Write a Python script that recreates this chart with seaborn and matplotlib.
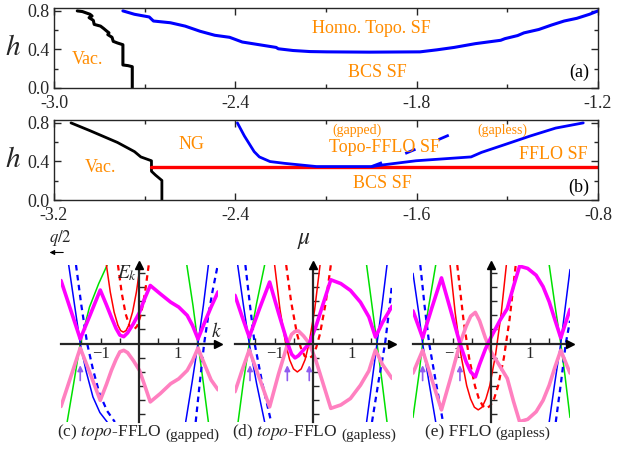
import numpy as np
import matplotlib
matplotlib.use("Agg")
import matplotlib.pyplot as plt
import seaborn as sns
from matplotlib.ticker import MultipleLocator, FormatStrFormatter

# ---------------- panel (a) ----------------
a_black_mu = [-2.923, -2.906, -2.881, -2.874, -2.884, -2.870, -2.867, -2.846, -2.836, -2.825,
              -2.818, -2.822, -2.808, -2.804, -2.790, -2.772, -2.772, -2.755, -2.741, -2.741]
a_black_h = [0.800, 0.793, 0.765, 0.747, 0.730, 0.702, 0.660, 0.642, 0.618, 0.589,
             0.572, 0.554, 0.526, 0.484, 0.467, 0.449, 0.239, 0.232, 0.221, 0.0]
a_blue_mu = [-2.772, -2.734, -2.685, -2.671, -2.615, -2.566, -2.517, -2.468, -2.419, -2.377,
             -2.321, -2.265, -2.258, -2.209, -2.153, -2.097, -1.957, -1.789, -1.733, -1.676,
             -1.606, -1.522, -1.508, -1.466, -1.445, -1.396, -1.354, -1.312, -1.270, -1.228, -1.200]
a_blue_h = [0.800, 0.765, 0.737, 0.695, 0.677, 0.642, 0.589, 0.547, 0.526, 0.477,
            0.449, 0.421, 0.407, 0.389, 0.378, 0.375, 0.372, 0.375, 0.396, 0.421,
            0.460, 0.495, 0.512, 0.544, 0.572, 0.607, 0.653, 0.695, 0.723, 0.765, 0.800]

# ---------------- panel (b) ----------------
b_black_mu = [-3.125, -3.041, -2.920, -2.845, -2.817, -2.770, -2.770, -2.770, -2.752, -2.724, -2.724]
b_black_h = [0.80, 0.719, 0.597, 0.502, 0.447, 0.407, 0.353, 0.298, 0.258, 0.203, 0.0]
b_red_mu = [-2.770, -0.8]
b_red_h = [0.347, 0.347]
b_blue_mu = [-2.391, -2.360, -2.317, -2.294, -2.247, -2.182, -2.042, -1.799, -1.743, -1.603,
             -1.360, -1.314, -1.211, -1.099, -0.987, -0.865]
b_blue_h = [0.80, 0.664, 0.502, 0.447, 0.399, 0.380, 0.347, 0.347, 0.366, 0.407,
            0.447, 0.494, 0.575, 0.664, 0.746, 0.80]
b_dash_mu = [-1.799, -1.687, -1.55, -1.426, -1.388]
b_dash_h = [0.347, 0.447, 0.58, 0.705, 0.80]

# ---------------- panel (c) ----------------
c_mag_k = [-2.03, -1.78, -1.53, -1.27, -1.01, -0.85, -0.72, -0.60, -0.50, -0.40, -0.30, -0.15,
           0.01, 0.16, 0.29, 0.55, 0.82, 1.03, 1.25, 1.39, 1.53, 1.70, 1.87, 2.05]
c_mag_E = [1.66, 0.89, 0.12, 0.76, 1.41, 1.02, 0.69, 0.40, 0.22, 0.18, 0.28, 0.52,
           0.82, 1.22, 1.53, 1.31, 1.09, 0.96, 0.74, 0.47, 0.12, 0.55, 0.96, 1.36]
c_pink_E = [-1.66, -0.89, -0.12, -0.80, -1.50, -1.08, -0.71, -0.42, -0.22, -0.18, -0.24, -0.45,
            -0.71, -1.15, -1.54, -1.32, -1.06, -0.93, -0.71, -0.45, -0.12, -0.55, -0.96, -1.22]
c_green_L_k = [-1.87, -1.70, -1.53, -1.29, -1.05, -0.83]
c_green_L_E = [-2.07, -1.05, 0.0, 0.96, 1.58, 2.07]
c_green_R_k = [1.24, 1.40, 1.53, 1.67, 1.80]
c_green_R_E = [2.07, 1.0, 0.0, -1.05, -2.07]
c_blue_L_k = [-1.83, -1.68, -1.53, -1.38, -1.20, -1.02, -0.83]
c_blue_L_E = [2.07, 1.03, 0.0, -0.72, -1.41, -1.82, -2.07]
c_blue_R_k = [1.21, 1.38, 1.53, 1.67, 1.80]
c_blue_R_E = [-2.07, -1.0, 0.0, 1.0, 2.07]
c_dash_L_k = [-1.64, -1.50, -1.35, -1.20, -1.03, -0.83, -0.63]
c_dash_L_E = [2.07, 1.0, 0.0, -0.68, -1.32, -1.78, -2.07]
c_dash_R_k = [1.47, 1.58, 1.69, 1.80, 1.91, 2.03]
c_dash_R_E = [-2.07, -1.0, 0.0, 0.75, 1.39, 2.0]
c_red_k = [-0.85, -0.75, -0.65, -0.55, -0.48, -0.41, -0.34, -0.27, -0.17, -0.07, 0.03]
c_red_E = [2.07, 1.36, 0.83, 0.48, 0.34, 0.30, 0.34, 0.48, 0.83, 1.36, 2.07]
c_rdash_k = [-0.55, -0.45, -0.35, -0.25, -0.15, -0.05, 0.05, 0.15, 0.25]
c_rdash_E = [2.07, 1.32, 0.78, 0.46, 0.35, 0.46, 0.78, 1.32, 2.07]
c_arrows_k = [-1.53]

# ---------------- panel (d) ----------------
d_mag_k = [-2.03, -1.85, -1.66, -1.40, -1.13, -0.90, -0.66, -0.56, -0.47, -0.38, -0.25, -0.10,
           0.07, 0.46, 0.72, 0.97, 1.23, 1.45, 1.62, 1.80, 2.05]
d_mag_E = [1.27, 0.72, 0.17, 0.90, 1.62, 0.81, 0.00, -0.28, -0.38, -0.32, -0.17, 0.00,
           0.44, 1.68, 1.58, 1.40, 1.09, 0.70, 0.17, 0.55, 0.98]
d_pink_E = [-1.27, -0.72, -0.17, -0.90, -1.67, -0.81, 0.00, 0.24, 0.32, 0.33, 0.20, 0.00,
            -0.44, -1.71, -1.62, -1.45, -1.10, -0.72, -0.17, -0.55, -0.92]
d_green_L_k = [-1.95, -1.81, -1.66, -1.47, -1.26]
d_green_L_E = [-2.07, -1.0, 0.0, 1.05, 2.07]
d_green_R_k = [1.39, 1.53, 1.66, 1.79, 1.92]
d_green_R_E = [2.07, 1.0, 0.0, -1.0, -2.07]
d_blue_L_k = [-1.96, -1.81, -1.66, -1.47, -1.26]
d_blue_L_E = [2.07, 1.0, 0.0, -1.05, -2.07]
d_blue_R_k = [1.39, 1.53, 1.66, 1.79, 1.92]
d_blue_R_E = [-2.07, -1.0, 0.0, 1.0, 2.07]
d_dash_L_k = [-1.76, -1.64, -1.52, -1.32, -1.09]
d_dash_L_E = [2.07, 1.0, 0.0, -1.05, -2.07]
d_dash_R_k = [1.53, 1.70, 1.87, 1.96, 2.05]
d_dash_R_E = [-2.07, -1.0, 0.0, 0.75, 1.55]
d_red_k = [-1.00, -0.86, -0.71, -0.61, -0.51, -0.41, -0.31, -0.21, -0.11, 0.04, 0.18]
d_red_E = [2.07, 0.89, -0.02, -0.43, -0.67, -0.75, -0.67, -0.43, -0.02, 0.89, 2.07]
d_rdash_k = [-0.70, -0.57, -0.42, -0.32, -0.22, -0.12, -0.02, 0.08, 0.18, 0.33, 0.46]
d_rdash_E = [2.07, 1.09, 0.26, -0.11, -0.33, -0.40, -0.33, -0.11, 0.26, 1.09, 2.07]
d_arrows_k = [-1.64, -0.67, -0.10]

# ---------------- panel (e) ----------------
e_mag_k = [-2.03, -1.78, -1.54, -1.29, -1.05, -0.81, -0.65, -0.53, -0.41, -0.30, -0.15, 0.00,
           0.23, 0.42, 0.58, 0.74, 0.95, 1.17, 1.35, 1.51, 1.66, 1.81, 2.05]
e_mag_E = [0.86, 0.15, 0.94, 1.73, 0.87, 0.00, -0.48, -0.75, -0.88, -0.55, -0.15, 0.17,
           0.61, 0.92, 1.50, 2.04, 1.98, 1.80, 1.50, 1.10, 0.62, 0.15, 0.90]
e_pink_E = [-0.78, -0.18, -0.95, -1.75, -0.90, 0.00, 0.45, 0.72, 0.82, 0.60, 0.15, -0.22,
            -0.60, -0.92, -1.52, -2.06, -2.00, -1.80, -1.50, -1.10, -0.62, -0.18, -0.78]
e_green_L_k = [-2.03, -1.88, -1.78, -1.61, -1.44]
e_green_L_E = [-1.95, -0.85, 0.0, 1.05, 2.07]
e_green_R_k = [1.51, 1.66, 1.81, 1.92, 2.05]
e_green_R_E = [2.07, 1.0, 0.0, -0.85, -1.95]
e_blue_L_k = [-2.03, -1.88, -1.78, -1.61, -1.44]
e_blue_L_E = [1.85, 0.8, 0.0, -1.05, -2.07]
e_blue_R_k = [1.51, 1.66, 1.81, 1.92, 2.05]
e_blue_R_E = [-2.07, -1.0, 0.0, 0.9, 1.95]
e_dash_L_k = [-1.84, -1.73, -1.61, -1.43, -1.25]
e_dash_L_E = [2.07, 1.0, 0.0, -1.05, -2.07]
e_dash_R_k = [1.68, 1.82, 1.94, 2.05]
e_dash_R_E = [-2.07, -1.0, 0.0, 0.6]
e_red_k = [-1.065, -0.935, -0.785, -0.635, -0.535, -0.435, -0.335, -0.235, -0.135, -0.035,
           0.115, 0.265, 0.395]
e_red_E = [2.06, 0.82, -0.30, -1.11, -1.46, -1.68, -1.75, -1.68, -1.46, -1.11, -0.30, 0.82, 2.06]
e_rdash_k = [-0.88, -0.72, -0.57, -0.42, -0.32, -0.22, -0.12, -0.02, 0.08, 0.18, 0.33, 0.48, 0.64]
e_rdash_E = [2.07, 0.64, -0.39, -1.12, -1.45, -1.64, -1.71, -1.64, -1.45, -1.12, -0.39, 0.64, 2.07]
e_arrows_k = [-1.78, -0.81]

# ---------------- styling ----------------
sns.set_style("ticks")
plt.rcParams['font.family'] = ['Liberation Serif', 'DejaVu Serif']
plt.rcParams['mathtext.fontset'] = 'stix'
plt.rcParams['axes.unicode_minus'] = True

W, H = 617, 449
fig = plt.figure(figsize=(W / 100, H / 100), dpi=100)
ORANGE = '#ff8c00'
BLUE = '#0000ff'
RED = '#ff0000'
GREEN = '#00e000'
MAG = '#ff00ff'
PINK = '#ff80c0'
PURPLE = '#8f5cf0'


def px_axes(left, top, right, bottom):
    return fig.add_axes([left / W, 1 - bottom / H, (right - left) / W, (bottom - top) / H])


def draw(ax, x, y, **kw):
    sns.lineplot(x=x, y=y, ax=ax, sort=False, estimator=None, errorbar=None,
                 legend=False, **kw)


LEFT, RIGHT = 54, 598


def style_phase(ax, xlim, xmaj):
    ax.set_xlim(*xlim)
    ax.set_ylim(0, 0.83)
    ax.xaxis.set_major_locator(MultipleLocator(xmaj))
    ax.xaxis.set_minor_locator(MultipleLocator(xmaj / 2))
    ax.yaxis.set_major_locator(MultipleLocator(0.4))
    ax.yaxis.set_minor_locator(MultipleLocator(0.2))
    ax.xaxis.set_major_formatter(FormatStrFormatter('%.1f'))
    ax.yaxis.set_major_formatter(FormatStrFormatter('%.1f'))
    ax.tick_params(which='both', direction='in', top=True, right=True, width=1)
    ax.tick_params(which='major', length=5, labelsize=13)
    ax.tick_params(axis='x', which='major', pad=5)
    ax.tick_params(axis='y', which='major', pad=3)
    ax.tick_params(which='minor', length=3)
    for s in ax.spines.values():
        s.set_linewidth(1)
    ax.set_xlabel('')
    ax.set_ylabel(r'$h$', fontsize=21, rotation=0, ha='center', va='center')
    ax.yaxis.set_label_coords((13 - LEFT) / (RIGHT - LEFT), 0.5)


# ---- (a) ----
axa = px_axes(LEFT, 8, RIGHT, 88)
draw(axa, a_black_mu, a_black_h, color='black', lw=2.2)
draw(axa, a_blue_mu, a_blue_h, color=BLUE, lw=2.2)
style_phase(axa, (-3.0, -1.2), 0.6)
axa.text(-1.95, 0.62, 'Homo. Topo. SF', color=ORANGE, fontsize=13, ha='center', va='center')
axa.text(-1.93, 0.16, 'BCS SF', color=ORANGE, fontsize=13, ha='center', va='center')
axa.text(-2.89, 0.30, 'Vac.', color=ORANGE, fontsize=13, ha='center', va='center')
axa.text(-1.263, 0.16, '(a)', color='black', fontsize=13, ha='center', va='center')

# ---- (b) ----
axb = px_axes(LEFT, 120, RIGHT, 200)
draw(axb, b_black_mu, b_black_h, color='black', lw=2.0)
draw(axb, b_red_mu, b_red_h, color=RED, lw=2.4)
draw(axb, b_blue_mu, b_blue_h, color=BLUE, lw=2.0)
draw(axb, b_dash_mu, b_dash_h, color=BLUE, lw=2.0, linestyle=(0, (4, 9)))
style_phase(axb, (-3.2, -0.8), 0.8)
axb.text(-2.593, 0.575, 'NG', color=ORANGE, fontsize=13, ha='center', va='center')
axb.text(-1.865, 0.719, '(gapped)', color=ORANGE, fontsize=10, ha='center', va='center')
axb.text(-1.22, 0.719, '(gapless)', color=ORANGE, fontsize=10, ha='center', va='center')
axb.text(-1.743, 0.542, 'Topo-FFLO SF', color=ORANGE, fontsize=13, ha='center', va='center')
axb.text(-0.996, 0.475, 'FFLO SF', color=ORANGE, fontsize=13, ha='center', va='center')
axb.text(-2.995, 0.339, 'Vac.', color=ORANGE, fontsize=13, ha='center', va='center')
axb.text(-1.752, 0.168, 'BCS SF', color=ORANGE, fontsize=13, ha='center', va='center')
axb.text(-0.884, 0.136, '(b)', color='black', fontsize=13, ha='center', va='center')
fig.text(304 / W, 1 - 240 / H, r'$\mu$', fontsize=17, ha='center', va='center')


# ---- band panels ----
def band_panel(left, d):
    ax = px_axes(left, 265, left + 157, 422)
    thin = dict(lw=1.1)
    for k, E in d['green']:
        draw(ax, k, E, color=GREEN, **thin)
    for k, E in d['blue']:
        draw(ax, k, E, color=BLUE, **thin)
    for k, E in d['dash']:
        draw(ax, k, E, color=BLUE, lw=1.6, linestyle=(0, (2.5, 2)))
    draw(ax, d['red'][0], d['red'][1], color=RED, **thin)
    draw(ax, d['rdash'][0], d['rdash'][1], color=RED, lw=1.6, linestyle=(0, (2.5, 2)))
    draw(ax, d['mag'][0], d['pink'], color=PINK, lw=2.6, zorder=5)
    draw(ax, d['mag'][0], d['mag'][1], color=MAG, lw=2.6, zorder=6)
    ax.set_xlim(-2.03, 2.05)
    ax.set_ylim(-2.07, 2.07)
    for s in ['top', 'right']:
        ax.spines[s].set_visible(False)
    ax.spines['left'].set_position(('data', 0))
    ax.spines['bottom'].set_position(('data', 0))
    ax.spines['left'].set_linewidth(1.6)
    ax.spines['bottom'].set_linewidth(1.6)
    ax.spines['left'].set_zorder(7)
    ax.spines['bottom'].set_zorder(7)
    ax.set_xticks([-1, 1])
    ax.set_xticklabels(['\u22121', '1'])
    ax.set_xticks([-1.5, -0.5, 0.5, 1.5], minor=True)
    yt = [v * 0.37 for v in range(-5, 6) if v != 0]
    ax.set_yticks(yt)
    ax.set_yticklabels([])
    ax.tick_params(which='both', direction='in', length=4, width=1, labelsize=12, pad=2)
    ax.set_xlabel('')
    ax.set_ylabel('')
    ax.plot(1.0, 0, marker='>', color='black', ms=6, transform=ax.get_yaxis_transform(),
            clip_on=False, zorder=8)
    ax.plot(0, 1.0, marker='^', color='black', ms=6, transform=ax.get_xaxis_transform(),
            clip_on=False, zorder=8)
    for k in d['arrows']:
        ax.annotate('', xy=(k, -0.50), xytext=(k, -1.05),
                    arrowprops=dict(arrowstyle='-|>', color=PURPLE, lw=1.2, mutation_scale=8),
                    zorder=9)
    return ax


axc = band_panel(61, dict(
    green=[(c_green_L_k, c_green_L_E), (c_green_R_k, c_green_R_E)],
    blue=[(c_blue_L_k, c_blue_L_E), (c_blue_R_k, c_blue_R_E)],
    dash=[(c_dash_L_k, c_dash_L_E), (c_dash_R_k, c_dash_R_E)],
    red=(c_red_k, c_red_E), rdash=(c_rdash_k, c_rdash_E),
    mag=(c_mag_k, c_mag_E), pink=c_pink_E, arrows=c_arrows_k))
axd = band_panel(235, dict(
    green=[(d_green_L_k, d_green_L_E), (d_green_R_k, d_green_R_E)],
    blue=[(d_blue_L_k, d_blue_L_E), (d_blue_R_k, d_blue_R_E)],
    dash=[(d_dash_L_k, d_dash_L_E), (d_dash_R_k, d_dash_R_E)],
    red=(d_red_k, d_red_E), rdash=(d_rdash_k, d_rdash_E),
    mag=(d_mag_k, d_mag_E), pink=d_pink_E, arrows=d_arrows_k))
axe = band_panel(413, dict(
    green=[(e_green_L_k, e_green_L_E), (e_green_R_k, e_green_R_E)],
    blue=[(e_blue_L_k, e_blue_L_E), (e_blue_R_k, e_blue_R_E)],
    dash=[(e_dash_L_k, e_dash_L_E), (e_dash_R_k, e_dash_R_E)],
    red=(e_red_k, e_red_E), rdash=(e_rdash_k, e_rdash_E),
    mag=(e_mag_k, e_mag_E), pink=e_pink_E, arrows=e_arrows_k))

# annotations in (c)
axc.text(-2.05, 2.78, r'$q/2$', fontsize=12, ha='center', va='center', clip_on=False)
axc.annotate('', xy=(-2.4, 2.40), xytext=(-1.90, 2.40), annotation_clip=False,
             arrowprops=dict(arrowstyle='-|>', color='black', lw=0.8, mutation_scale=7))
axc.text(-0.06, 1.85, r'$E_k$', fontsize=14, ha='right', va='center')
axc.text(1.88, 0.32, r'$k$', fontsize=14, ha='left', va='center')

# panel captions
caps = [(57, r'(c) $\mathit{topo}$-FFLO', '(gapped)'),
        (232, r'(d) $\mathit{topo}$-FFLO', '(gapless)'),
        (425, '(e) FFLO', '(gapless)')]
for x0, main, small in caps:
    t1 = fig.text(x0 / W, 1 - 436 / H, main, fontsize=12.5, ha='left', va='baseline')
    axc.annotate(small, xy=(1, 0), xycoords=t1, xytext=(3, 0), textcoords='offset points',
                 fontsize=11, ha='left', va='bottom', annotation_clip=False)

fig.savefig('out.png', dpi=100)
